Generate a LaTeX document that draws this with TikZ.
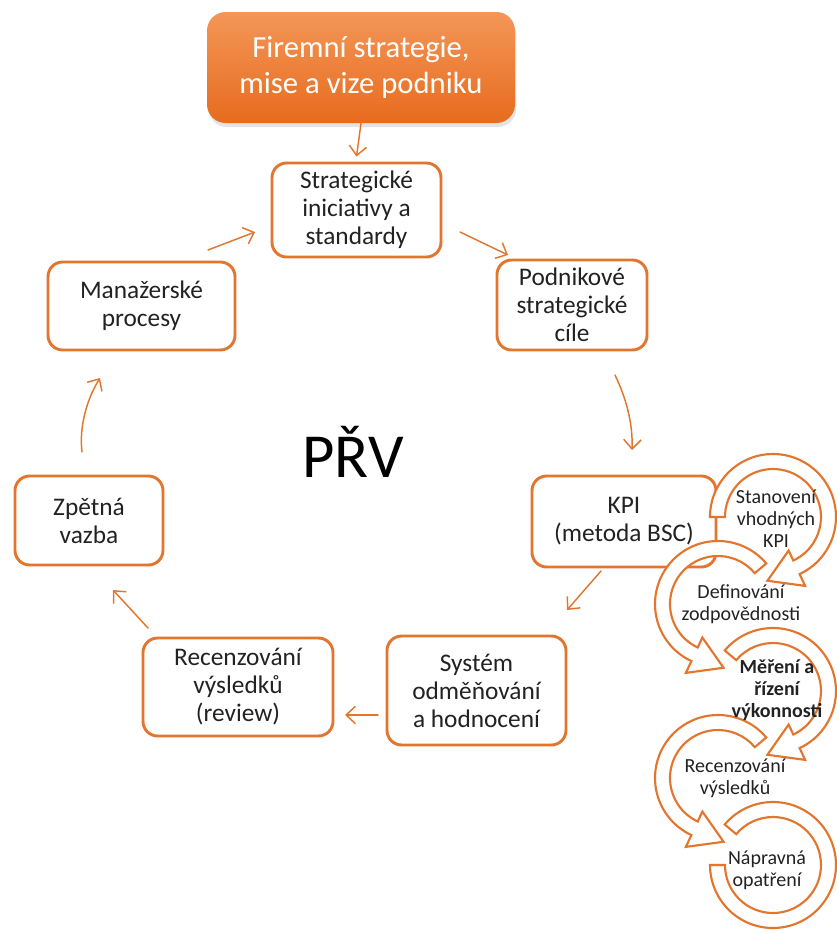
\documentclass[tikz,border=0pt]{standalone}
\usepackage{fontspec}
\setmainfont{Carlito}
\usetikzlibrary{arrows.meta,shadows,calc}
\definecolor{orng}{RGB}{226,118,46}
\definecolor{txt}{RGB}{34,34,34}
\begin{document}
\begin{tikzpicture}[x=0.75pt,y=-0.75pt,
 box/.style={draw=orng, line width=2.2pt, rounded corners=11pt, fill=white, align=center, text=txt, font=\fontsize{19}{21}\selectfont, inner sep=0pt},
 arr/.style={draw=orng, line width=1.1pt, line cap=round, -{Straight Barb[length=7pt,width=13pt]}},
 band/.style={draw=orng, line width=1.6pt, fill=white, line join=miter},
 stxt/.style={align=center, text=txt, font=\fontsize{15}{16.5}\selectfont, inner sep=0pt}]
\useasboundingbox (0,0) rectangle (837,933);

% top box
\node[draw=none, rounded corners=14pt, minimum width=231pt, minimum height=83.25pt,
  top color={rgb,255:red,244;green,150;blue,88}, bottom color={rgb,255:red,230;green,108;blue,30},
  drop shadow={shadow xshift=1pt, shadow yshift=-3pt, opacity=0.22, fill=gray},
  text=white, align=center, font=\fontsize{23}{26.5}\selectfont, inner sep=0pt]
  (top) at (361,67.5) {Firemní strategie,\\mise a vize podniku};

% cycle boxes
\node[box, minimum width=126.75pt, minimum height=70.5pt] (strat) at (356.5,210) {Strategické\\iniciativy a\\standardy};
\node[box, minimum width=112.5pt, minimum height=67.5pt] (podn) at (572,305) {Podnikové\\strategické\\cíle};
\node[box, minimum width=138pt, minimum height=68.25pt] (kpi) at (624,521.5) {KPI\\(metoda BSC)};
\node[box, minimum width=134.25pt, minimum height=81.75pt] (sys) at (476.5,690.5) {Systém\\odměňování\\a hodnocení};
\node[box, minimum width=142.5pt, minimum height=73.5pt] (rec) at (238,687) {Recenzování\\výsledků\\(review)};
\node[box, minimum width=111pt, minimum height=66.75pt] (zpet) at (89,520.5) {Zpětná\\vazba};
\node[box, minimum width=140.25pt, minimum height=66pt] (man) at (141.5,306) {Manažerské\\procesy};

\node[text=black, font=\fontsize{47}{50}\selectfont, inner sep=0pt] (prv) at (353,452) {PŘV};

% arrow end points
\coordinate (a2s) at (460,232); \coordinate (a2e) at (508,255);
\coordinate (a3s) at (615,375); \coordinate (a3e) at (632,450);
\coordinate (a4s) at (601,571); \coordinate (a4e) at (567,610);
\coordinate (a5s) at (378,715); \coordinate (a5e) at (345,715);
\coordinate (a6s) at (148,628); \coordinate (a6e) at (113,590);
\coordinate (a7s) at (82,452);  \coordinate (a7e) at (100,378);
\coordinate (a8s) at (208,250); \coordinate (a8e) at (255,232);

\draw[arr] (top.south) -- ($(strat.north)+(0,-5)$);
\draw[arr] (a2s) -- (a2e);
\draw[arr] (a3s) .. controls (626,398) and (633,423) .. (a3e);
\draw[arr] (a4s) -- (a4e);
\draw[arr] (a5s) -- (a5e);
\draw[arr] (a6s) -- (a6e);
\draw[arr] (a7s) .. controls (79,426) and (87,399) .. (a7e);
\draw[arr] (a8s) -- (a8e);

% spiral of circular arrows (drawn last to first)
\begin{scope}[shift={(773,865)}]
 \filldraw[band] (220:63) arc[start angle=220, end angle=540, radius=63] -- (540:48) arc[start angle=540, end angle=220, radius=48] -- cycle;
\end{scope}
\begin{scope}[shift={(718,778)}]
 \filldraw[band] (320:63) arc[start angle=320, end angle=115, radius=63] -- (115:76) -- (85:64) -- (115:37) -- (115:48) arc[start angle=115, end angle=320, radius=48] -- cycle;
\end{scope}
\begin{scope}[shift={(773,691)}]
 \filldraw[band] (220:63) arc[start angle=220, end angle=425, radius=63] -- (425:76) -- (455:64) -- (425:37) -- (425:48) arc[start angle=425, end angle=220, radius=48] -- cycle;
\end{scope}
\begin{scope}[shift={(718,604)}]
 \filldraw[band] (320:63) arc[start angle=320, end angle=115, radius=63] -- (115:76) -- (85:64) -- (115:37) -- (115:48) arc[start angle=115, end angle=320, radius=48] -- cycle;
\end{scope}
\begin{scope}[shift={(773,517)}]
 \filldraw[band] (180:63) arc[start angle=180, end angle=425, radius=63] -- (425:76) -- (455:64) -- (425:37) -- (425:48) arc[start angle=425, end angle=180, radius=48] -- cycle;
\end{scope}

\node[stxt] (s1) at (776,519) {Stanovení\\vhodných\\KPI};
\node[stxt] (s2) at (741,604) {Definování\\zodpovědnosti};
\node[stxt, font=\bfseries\fontsize{15}{16.5}\selectfont] (s3) at (777,690) {Měření a\\řízení\\výkonnosti};
\node[stxt] (s4) at (735,778) {Recenzování\\výsledků};
\node[stxt] (s5) at (767,870) {Nápravná\\opatření};
\end{tikzpicture}
\end{document}
